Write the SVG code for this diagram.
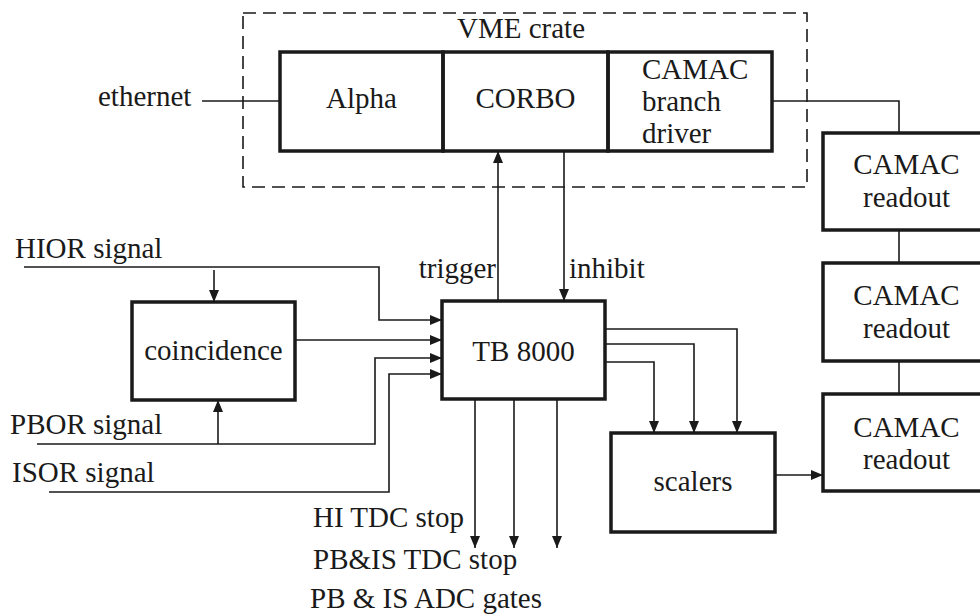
<svg xmlns="http://www.w3.org/2000/svg" width="980" height="616" viewBox="0 0 980 616">
<defs>
<style>
text{font-family:'Liberation Serif','DejaVu Serif','Times New Roman',serif;font-size:29px;fill:#1a1a1a}
.box{fill:none;stroke:#1a1a1a;stroke-width:3.5}
.ln{fill:none;stroke:#1a1a1a;stroke-width:1.6}
.dash{fill:none;stroke:#1a1a1a;stroke-width:1.6;stroke-dasharray:13 7}
.c{text-anchor:middle}
</style>
<marker id="arr" viewBox="0 0 12 10" refX="12" refY="5" markerWidth="12" markerHeight="10" markerUnits="userSpaceOnUse" orient="auto">
<path d="M0,0 L12,5 L0,10 z" fill="#1a1a1a"/>
</marker>
</defs>
<rect width="980" height="616" fill="#fff"/>
<g font-family="Liberation Serif, DejaVu Serif, serif">
<g id="vme-crate">
<rect class="dash" x="243" y="13" width="564" height="174"/>
<text class="c" x="521" y="38">VME crate</text>
</g>
<g id="alpha">
<rect class="box" x="280" y="52" width="163" height="99"/>
<text class="c" x="361.5" y="108">Alpha</text>
</g>
<g id="corbo">
<rect class="box" x="443" y="52" width="165" height="99"/>
<text class="c" x="525.5" y="108">CORBO</text>
</g>
<g id="branch-driver">
<rect class="box" x="608" y="52" width="164" height="99"/>
<text x="642" y="79">CAMAC</text>
<text x="642" y="111">branch</text>
<text x="642" y="143">driver</text>
</g>
<g id="readout1">
<rect class="box" x="823" y="133" width="167" height="97"/>
<text class="c" x="906.5" y="174">CAMAC</text>
<text class="c" x="906.5" y="207">readout</text>
</g>
<g id="readout2">
<rect class="box" x="823" y="263" width="167" height="98"/>
<text class="c" x="906.5" y="305">CAMAC</text>
<text class="c" x="906.5" y="338">readout</text>
</g>
<g id="readout3">
<rect class="box" x="823" y="394" width="167" height="97"/>
<text class="c" x="906.5" y="437">CAMAC</text>
<text class="c" x="906.5" y="469">readout</text>
</g>
<g id="coincidence">
<rect class="box" x="132" y="302" width="163" height="98"/>
<text class="c" x="213.5" y="360">coincidence</text>
</g>
<g id="tb8000">
<rect class="box" x="442" y="301" width="163" height="98"/>
<text class="c" x="523.5" y="361">TB 8000</text>
</g>
<g id="scalers">
<rect class="box" x="611" y="433" width="164" height="99"/>
<text class="c" x="693" y="491">scalers</text>
</g>

<g id="labels">
<text x="98" y="106">ethernet</text>
<text x="15" y="258">HIOR signal</text>
<text x="10" y="434">PBOR signal</text>
<text x="12" y="482">ISOR signal</text>
<text x="496" y="278" text-anchor="end">trigger</text>
<text x="569" y="278">inhibit</text>
<text x="313" y="527">HI TDC stop</text>
<text x="313" y="569">PB&amp;IS TDC stop</text>
<text x="310" y="608">PB &amp; IS ADC gates</text>
</g>
</g>
<g id="connectors">
<path class="ln" d="M202,101 H280"/>
<path class="ln" d="M772,101 H899 V133"/>
<path class="ln" d="M899,230 V263"/>
<path class="ln" d="M899,361 V394"/>
<path class="ln" d="M498,301 V151" marker-end="url(#arr)"/>
<path class="ln" d="M564,151 V301" marker-end="url(#arr)"/>
<path class="ln" d="M24,267 H379 V320 H442" marker-end="url(#arr)"/>
<path class="ln" d="M214,270 V302" marker-end="url(#arr)"/>
<path class="ln" d="M295,340 H442" marker-end="url(#arr)"/>
<path class="ln" d="M37,444 H375 V358 H442" marker-end="url(#arr)"/>
<path class="ln" d="M218,444 V400" marker-end="url(#arr)"/>
<path class="ln" d="M49,492 H389 V374 H442" marker-end="url(#arr)"/>
<path class="ln" d="M605,329 H737 V433" marker-end="url(#arr)"/>
<path class="ln" d="M605,344 H694 V433" marker-end="url(#arr)"/>
<path class="ln" d="M605,362 H654 V433" marker-end="url(#arr)"/>
<path class="ln" d="M475,399 V548" marker-end="url(#arr)"/>
<path class="ln" d="M514,399 V548" marker-end="url(#arr)"/>
<path class="ln" d="M557,399 V548" marker-end="url(#arr)"/>
<path class="ln" d="M775,475 H823" marker-end="url(#arr)"/>
</g>
</svg>
